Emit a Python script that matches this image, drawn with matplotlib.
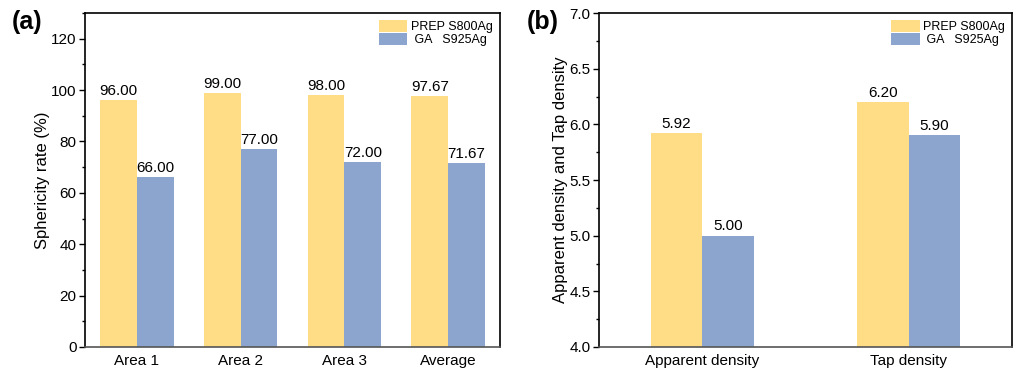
import matplotlib
matplotlib.use("Agg")
import matplotlib.pyplot as plt
import numpy as np
from matplotlib.ticker import MultipleLocator

plt.rcParams['font.family'] = ['Liberation Sans', 'DejaVu Sans']

cats_a = ["Area 1", "Area 2", "Area 3", "Average"]
prep_a = [96.00, 99.00, 98.00, 97.67]
ga_a = [66.00, 77.00, 72.00, 71.67]

cats_b = ["Apparent density", "Tap density"]
prep_b = [5.92, 6.20]
ga_b = [5.00, 5.90]

series_names = ["PREP S800Ag", " GA   S925Ag"]
c_yellow = "#FFDD87"
c_blue = "#8CA5CE"

fig = plt.figure(figsize=(10.14, 3.69), dpi=100)
W, H = 1014, 369
ax1 = fig.add_axes([85 / W, 1 - 347 / H, 415 / W, 334 / H])
ax2 = fig.add_axes([599 / W, 1 - 347 / H, 413 / W, 334 / H])

def style(ax):
    for s in ax.spines.values():
        s.set_linewidth(1.2)
        s.set_color("black")
    ax.spines['bottom'].set_color("#555555")
    ax.tick_params(axis='y', direction='out', length=4, width=1, labelsize=11, pad=2)
    ax.tick_params(axis='y', which='minor', direction='out', length=2.5, width=1)
    ax.tick_params(axis='x', length=0, labelsize=11, pad=5)

def legend(ax):
    ax.legend(loc='upper right', frameon=False, fontsize=9, handlelength=2.3, handleheight=1.1,
              handletextpad=0.3, labelspacing=0.0, borderaxespad=0.15)

# Panel a
x = np.arange(len(cats_a))
w = 0.355
b1 = ax1.bar(x - w / 2, prep_a, w, color=c_yellow, label=series_names[0])
b2 = ax1.bar(x + w / 2, ga_a, w, color=c_blue, label=series_names[1])
for r, v in zip(b1, prep_a):
    ax1.text(r.get_x() + r.get_width() / 2, v + 0.8, f"{v:.2f}", ha='center', va='bottom', fontsize=11)
for r, v in zip(b2, ga_a):
    ax1.text(r.get_x() + r.get_width() / 2, v + 0.8, f"{v:.2f}", ha='center', va='bottom', fontsize=11)
ax1.set_xlim(-0.5, 3.5)
ax1.set_ylim(0, 130)
ax1.set_xticks(x)
ax1.set_xticklabels(cats_a)
ax1.yaxis.set_major_locator(MultipleLocator(20))
ax1.yaxis.set_minor_locator(MultipleLocator(10))
ax1.set_ylabel("Sphericity rate (%)", fontsize=12, labelpad=1)
style(ax1)
legend(ax1)

# Panel b
xb = np.arange(len(cats_b))
wb = 0.25
c1 = ax2.bar(xb - wb / 2, prep_b, wb, color=c_yellow, label=series_names[0])
c2 = ax2.bar(xb + wb / 2, ga_b, wb, color=c_blue, label=series_names[1])
for r, v in zip(c1, prep_b):
    ax2.text(r.get_x() + r.get_width() / 2, v + 0.02, f"{v:.2f}", ha='center', va='bottom', fontsize=11)
for r, v in zip(c2, ga_b):
    ax2.text(r.get_x() + r.get_width() / 2, v + 0.02, f"{v:.2f}", ha='center', va='bottom', fontsize=11)
ax2.set_xlim(-0.5, 1.5)
ax2.set_ylim(4.0, 7.0)
ax2.set_xticks(xb)
ax2.set_xticklabels(cats_b)
ax2.yaxis.set_major_locator(MultipleLocator(0.5))
ax2.yaxis.set_minor_locator(MultipleLocator(0.25))
ax2.yaxis.set_major_formatter(matplotlib.ticker.FormatStrFormatter('%.1f'))
ax2.set_ylabel("Apparent density and Tap density", fontsize=12, labelpad=1)
style(ax2)
legend(ax2)

fig.text(12 / W, 1 - 22 / H, "(a)", fontsize=18, fontweight='bold', va='center', ha='left')
fig.text(527 / W, 1 - 22 / H, "(b)", fontsize=18, fontweight='bold', va='center', ha='left')

fig.savefig("out.png", dpi=100)
